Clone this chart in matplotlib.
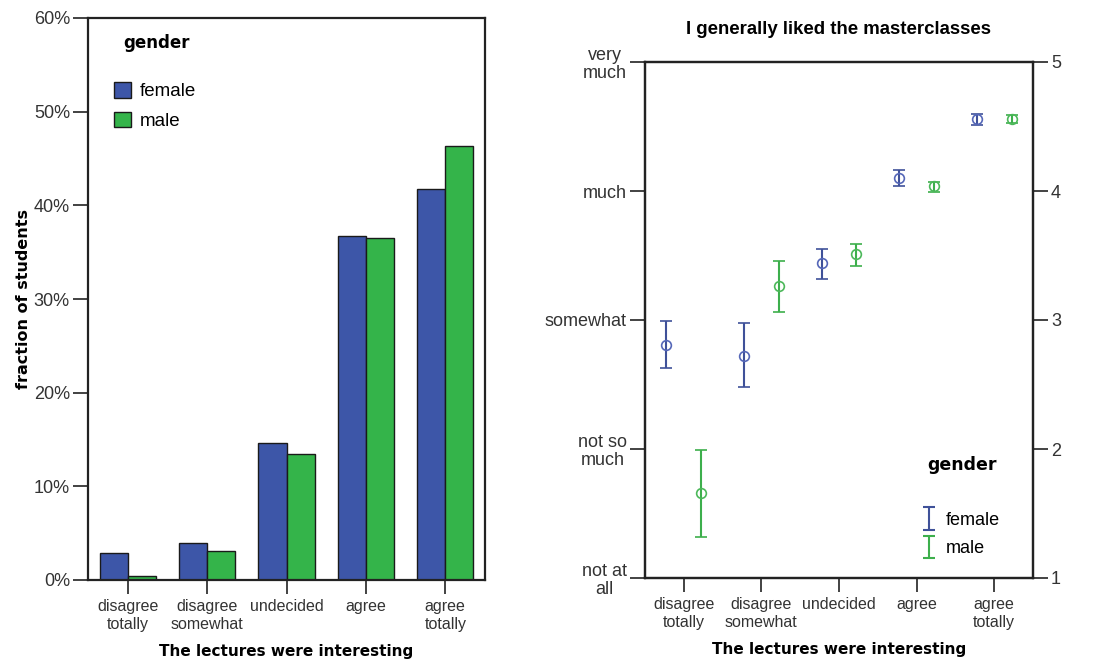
import numpy as np
import matplotlib
matplotlib.use("Agg")
import matplotlib.pyplot as plt
from matplotlib.patches import Patch
from matplotlib.ticker import FuncFormatter
from matplotlib.legend_handler import HandlerErrorbar
from matplotlib.container import ErrorbarContainer

# ---------------- data ----------------
categories = ["disagree\ntotally", "disagree\nsomewhat", "undecided", "agree", "agree\ntotally"]
genders = ["female", "male"]

# left: fraction of students (%)
frac_female = [2.9, 4.0, 14.6, 36.7, 41.7]
frac_male = [0.4, 3.1, 13.5, 36.5, 46.3]

# right: mean rating and error bar bounds
mean_female = [2.81, 2.72, 3.44, 4.10, 4.56]
low_female = [2.63, 2.48, 3.32, 4.04, 4.51]
high_female = [2.99, 2.98, 3.55, 4.16, 4.60]
mean_male = [1.66, 3.26, 3.51, 4.04, 4.56]
low_male = [1.32, 3.06, 3.42, 3.99, 4.53]
high_male = [1.99, 3.46, 3.59, 4.07, 4.59]

rating_ticks = [1, 2, 3, 4, 5]
rating_labels = ["not at\nall", "not so\nmuch", "somewhat", "much", "very\nmuch"]
pct_ticks = [0, 10, 20, 30, 40, 50, 60]

BLUE = "#3d56a8"
GREEN = "#34b44a"
EB_BLUE = "#3f5199"
EB_GREEN = "#3daf4c"
SPINE = "#222222"
TXT = "#333333"

plt.rcParams["font.family"] = ["Liberation Sans", "DejaVu Sans"]

fig = plt.figure(figsize=(11, 6.61), dpi=100)

# ---------------- left panel ----------------
ax1 = fig.add_axes([88 / 1100, 1 - 580 / 661, 397 / 1100, 562 / 661])
x = np.arange(len(categories))
w = 0.355
ax1.bar(x - w / 2, frac_female, width=w, color=BLUE, edgecolor="#1a1a1a", linewidth=1.0, label="female")
ax1.bar(x + w / 2, frac_male, width=w, color=GREEN, edgecolor="#1a1a1a", linewidth=1.0, label="male")
ax1.set_xlim(-0.5, len(categories) - 0.5)
ax1.set_ylim(0, 60)
ax1.set_yticks(pct_ticks)
ax1.yaxis.set_major_formatter(FuncFormatter(lambda v, p: f"{int(v)}%"))
ax1.set_xticks(x)
ax1.set_xticklabels(categories, fontsize=11.5, color=TXT, linespacing=1.2)
for lab in ax1.get_yticklabels():
    lab.set_fontsize(13)
    lab.set_color(TXT)
ax1.tick_params(axis="y", direction="out", length=11, width=1.2, color=SPINE, pad=2)
ax1.tick_params(axis="x", direction="out", length=10, width=1.2, color=SPINE, pad=4)
for s in ax1.spines.values():
    s.set_linewidth(1.6)
    s.set_color(SPINE)
ax1.set_xlabel("The lectures were interesting", family="DejaVu Sans", fontweight="bold",
               fontsize=11, labelpad=8.5)
ax1.set_ylabel("fraction of students", family="DejaVu Sans", fontweight="bold",
               fontsize=11.5, labelpad=2)
ax1.text(0.088, 0.955, "gender", transform=ax1.transAxes, family="DejaVu Sans",
         fontweight="bold", fontsize=12, va="center", ha="left")
ax1.legend(handles=[Patch(facecolor=BLUE, edgecolor="#1a1a1a", label="female"),
                    Patch(facecolor=GREEN, edgecolor="#1a1a1a", label="male")],
           loc="upper left", bbox_to_anchor=(0.066, 0.886), frameon=False,
           fontsize=13.5, handlelength=0.9, handleheight=0.9, handletextpad=0.45,
           labelspacing=0.6, borderpad=0, borderaxespad=0)

# ---------------- right panel ----------------
ax2 = fig.add_axes([645 / 1100, 1 - 578 / 661, 388 / 1100, 516 / 661])
off = 0.225
mf = np.array(mean_female)
mm = np.array(mean_male)
err_f = [mf - np.array(low_female), np.array(high_female) - mf]
err_m = [mm - np.array(low_male), np.array(high_male) - mm]
ax2.errorbar(x - off, mf, yerr=err_f, fmt="o", mfc="none", mec="#5567b8", mew=1.2, ms=7,
             ecolor=EB_BLUE, elinewidth=1.5, capsize=4.5, capthick=1.5)
ax2.errorbar(x + off, mm, yerr=err_m, fmt="o", mfc="none", mec="#4cb85a", mew=1.2, ms=7,
             ecolor=EB_GREEN, elinewidth=1.5, capsize=4.5, capthick=1.5)
ax2.set_xlim(-0.5, len(categories) - 0.5)
ax2.set_ylim(1, 5)
ax2.set_yticks(rating_ticks)
ax2.set_yticklabels(rating_labels, fontsize=13, color=TXT, multialignment="center", linespacing=1.05)
ax2.set_xticks(x)
ax2.set_xticklabels(categories, fontsize=11.5, color=TXT, linespacing=1.2)
ax2.tick_params(axis="y", direction="out", length=11, width=1.2, color=SPINE, pad=2)
ax2.tick_params(axis="x", direction="out", length=10, width=1.2, color=SPINE, pad=4)
for s in ax2.spines.values():
    s.set_linewidth(1.6)
    s.set_color(SPINE)
ax2r = ax2.twinx()
ax2r.set_ylim(1, 5)
ax2r.set_yticks(rating_ticks)
ax2r.set_yticklabels([str(t) for t in rating_ticks], fontsize=13, color=TXT)
ax2r.tick_params(axis="y", direction="out", length=11, width=1.2, color=SPINE, pad=2)
for s in ax2r.spines.values():
    s.set_linewidth(1.6)
    s.set_color(SPINE)
ax2.set_xlabel("The lectures were interesting", family="DejaVu Sans", fontweight="bold",
               fontsize=11, labelpad=8.5)
ax2.set_title("I generally liked the masterclasses", fontweight="bold", fontsize=13.4, pad=20.5)

# legend for right panel
ax2.text(0.727, 0.219, "gender", transform=ax2.transAxes, family="DejaVu Sans",
         fontweight="bold", fontsize=12.5, va="center", ha="left")
hf = ax2.errorbar([np.nan], [np.nan], yerr=[0.1], fmt="none", ecolor=EB_BLUE,
                  elinewidth=1.5, capsize=4.5, capthick=1.5)
hm = ax2.errorbar([np.nan], [np.nan], yerr=[0.1], fmt="none", ecolor=EB_GREEN,
                  elinewidth=1.5, capsize=4.5, capthick=1.5)
ax2.legend([hf, hm], genders, loc="upper left", bbox_to_anchor=(0.714, 0.128), frameon=False,
           fontsize=13, handlelength=0.8, handletextpad=0.5, labelspacing=0.62,
           borderpad=0, borderaxespad=0,
           handler_map={ErrorbarContainer: HandlerErrorbar(yerr_size=0.62)})

fig.savefig("out.png", dpi=100)
